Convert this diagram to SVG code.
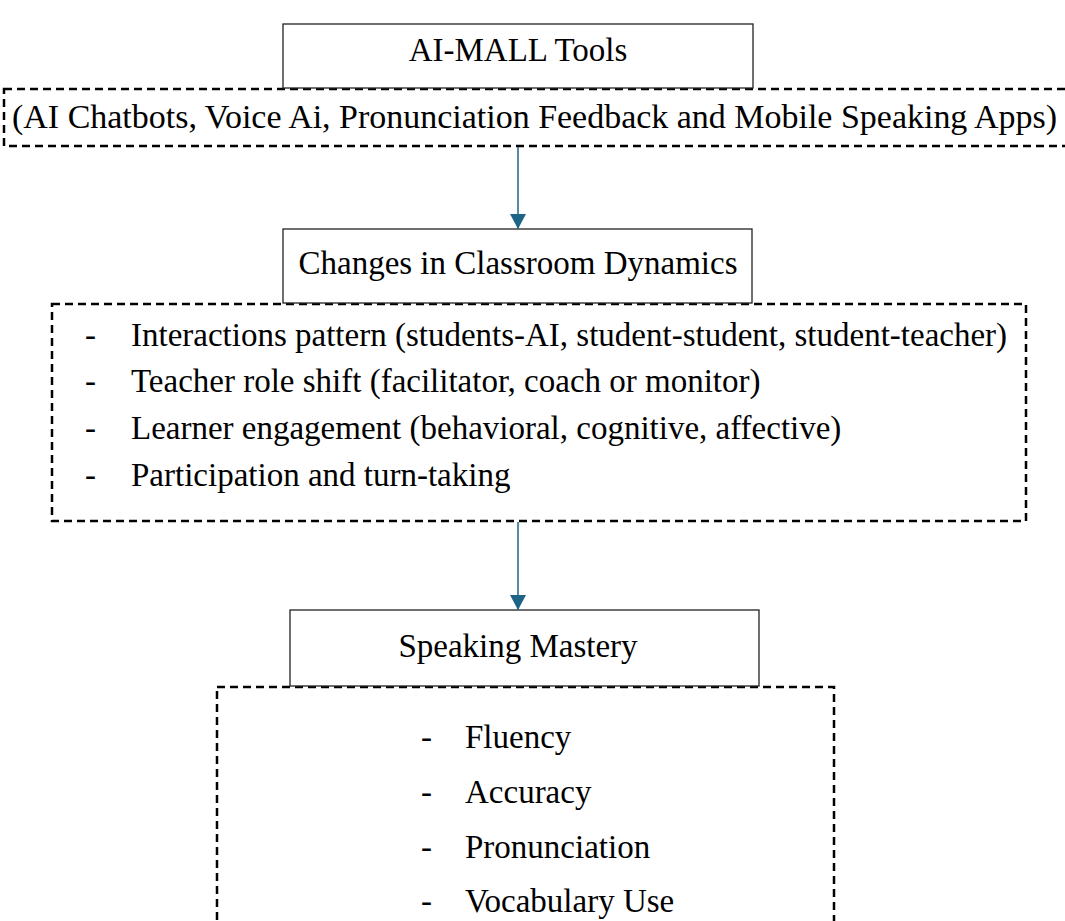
<svg xmlns="http://www.w3.org/2000/svg" width="1065" height="921" viewBox="0 0 1065 921">
<style>
  text { font-family: "Liberation Serif", "Times New Roman", serif; font-size: 33px; fill: #000; }
  .c { text-anchor: middle; }
  .box { fill: #fff; stroke: #222; stroke-width: 1.3; }
  .dash { fill: none; stroke: #000; stroke-width: 2.5; stroke-dasharray: 8 5; }
  .conn { stroke: #1E6486; stroke-width: 1.5; fill: none; }
</style>
<defs>
  <marker id="arr" markerWidth="16" markerHeight="16" refX="15" refY="8" orient="auto" markerUnits="userSpaceOnUse" viewBox="0 0 16 16">
    <path d="M0,0 L15,8 L0,16 Z" fill="#1E6486"/>
  </marker>
</defs>
<rect width="1065" height="921" fill="#fff"/>

<g id="tools-list">
  <rect class="dash" x="4" y="89" width="1070" height="57"/>
  <text x="12" y="128" textLength="1045" lengthAdjust="spacingAndGlyphs">(AI Chatbots, Voice Ai, Pronunciation Feedback and Mobile Speaking Apps)</text>
</g>
<g id="ai-mall-tools">
  <rect class="box" x="283" y="24" width="470" height="64"/>
  <text class="c" x="518" y="61">AI-MALL Tools</text>
</g>

<g id="dynamics-list">
  <rect class="dash" x="52" y="304" width="974" height="217"/>
  <text x="85" y="346">-</text><text x="131" y="346">Interactions pattern (students-AI, student-student, student-teacher)</text>
  <text x="85" y="392">-</text><text x="131" y="392">Teacher role shift (facilitator, coach or monitor)</text>
  <text x="85" y="439">-</text><text x="131" y="439">Learner engagement (behavioral, cognitive, affective)</text>
  <text x="85" y="486">-</text><text x="131" y="486">Participation and turn-taking</text>
</g>
<g id="classroom-dynamics">
  <rect class="box" x="283" y="229" width="469" height="74"/>
  <text class="c" x="518" y="274">Changes in Classroom Dynamics</text>
</g>

<g id="mastery-list">
  <rect class="dash" x="217" y="687" width="617" height="260"/>
  <text x="421" y="748">-</text><text x="465" y="748">Fluency</text>
  <text x="421" y="803">-</text><text x="465" y="803">Accuracy</text>
  <text x="421" y="858">-</text><text x="465" y="858">Pronunciation</text>
  <text x="421" y="912">-</text><text x="465" y="912">Vocabulary Use</text>
</g>
<g id="speaking-mastery">
  <rect class="box" x="290" y="610" width="469" height="76"/>
  <text class="c" x="518" y="657">Speaking Mastery</text>
</g>

<g id="connectors">
  <line class="conn" x1="518" y1="147" x2="518" y2="229" marker-end="url(#arr)"/>
  <line class="conn" x1="518" y1="522" x2="518" y2="610" marker-end="url(#arr)"/>
</g>
</svg>
